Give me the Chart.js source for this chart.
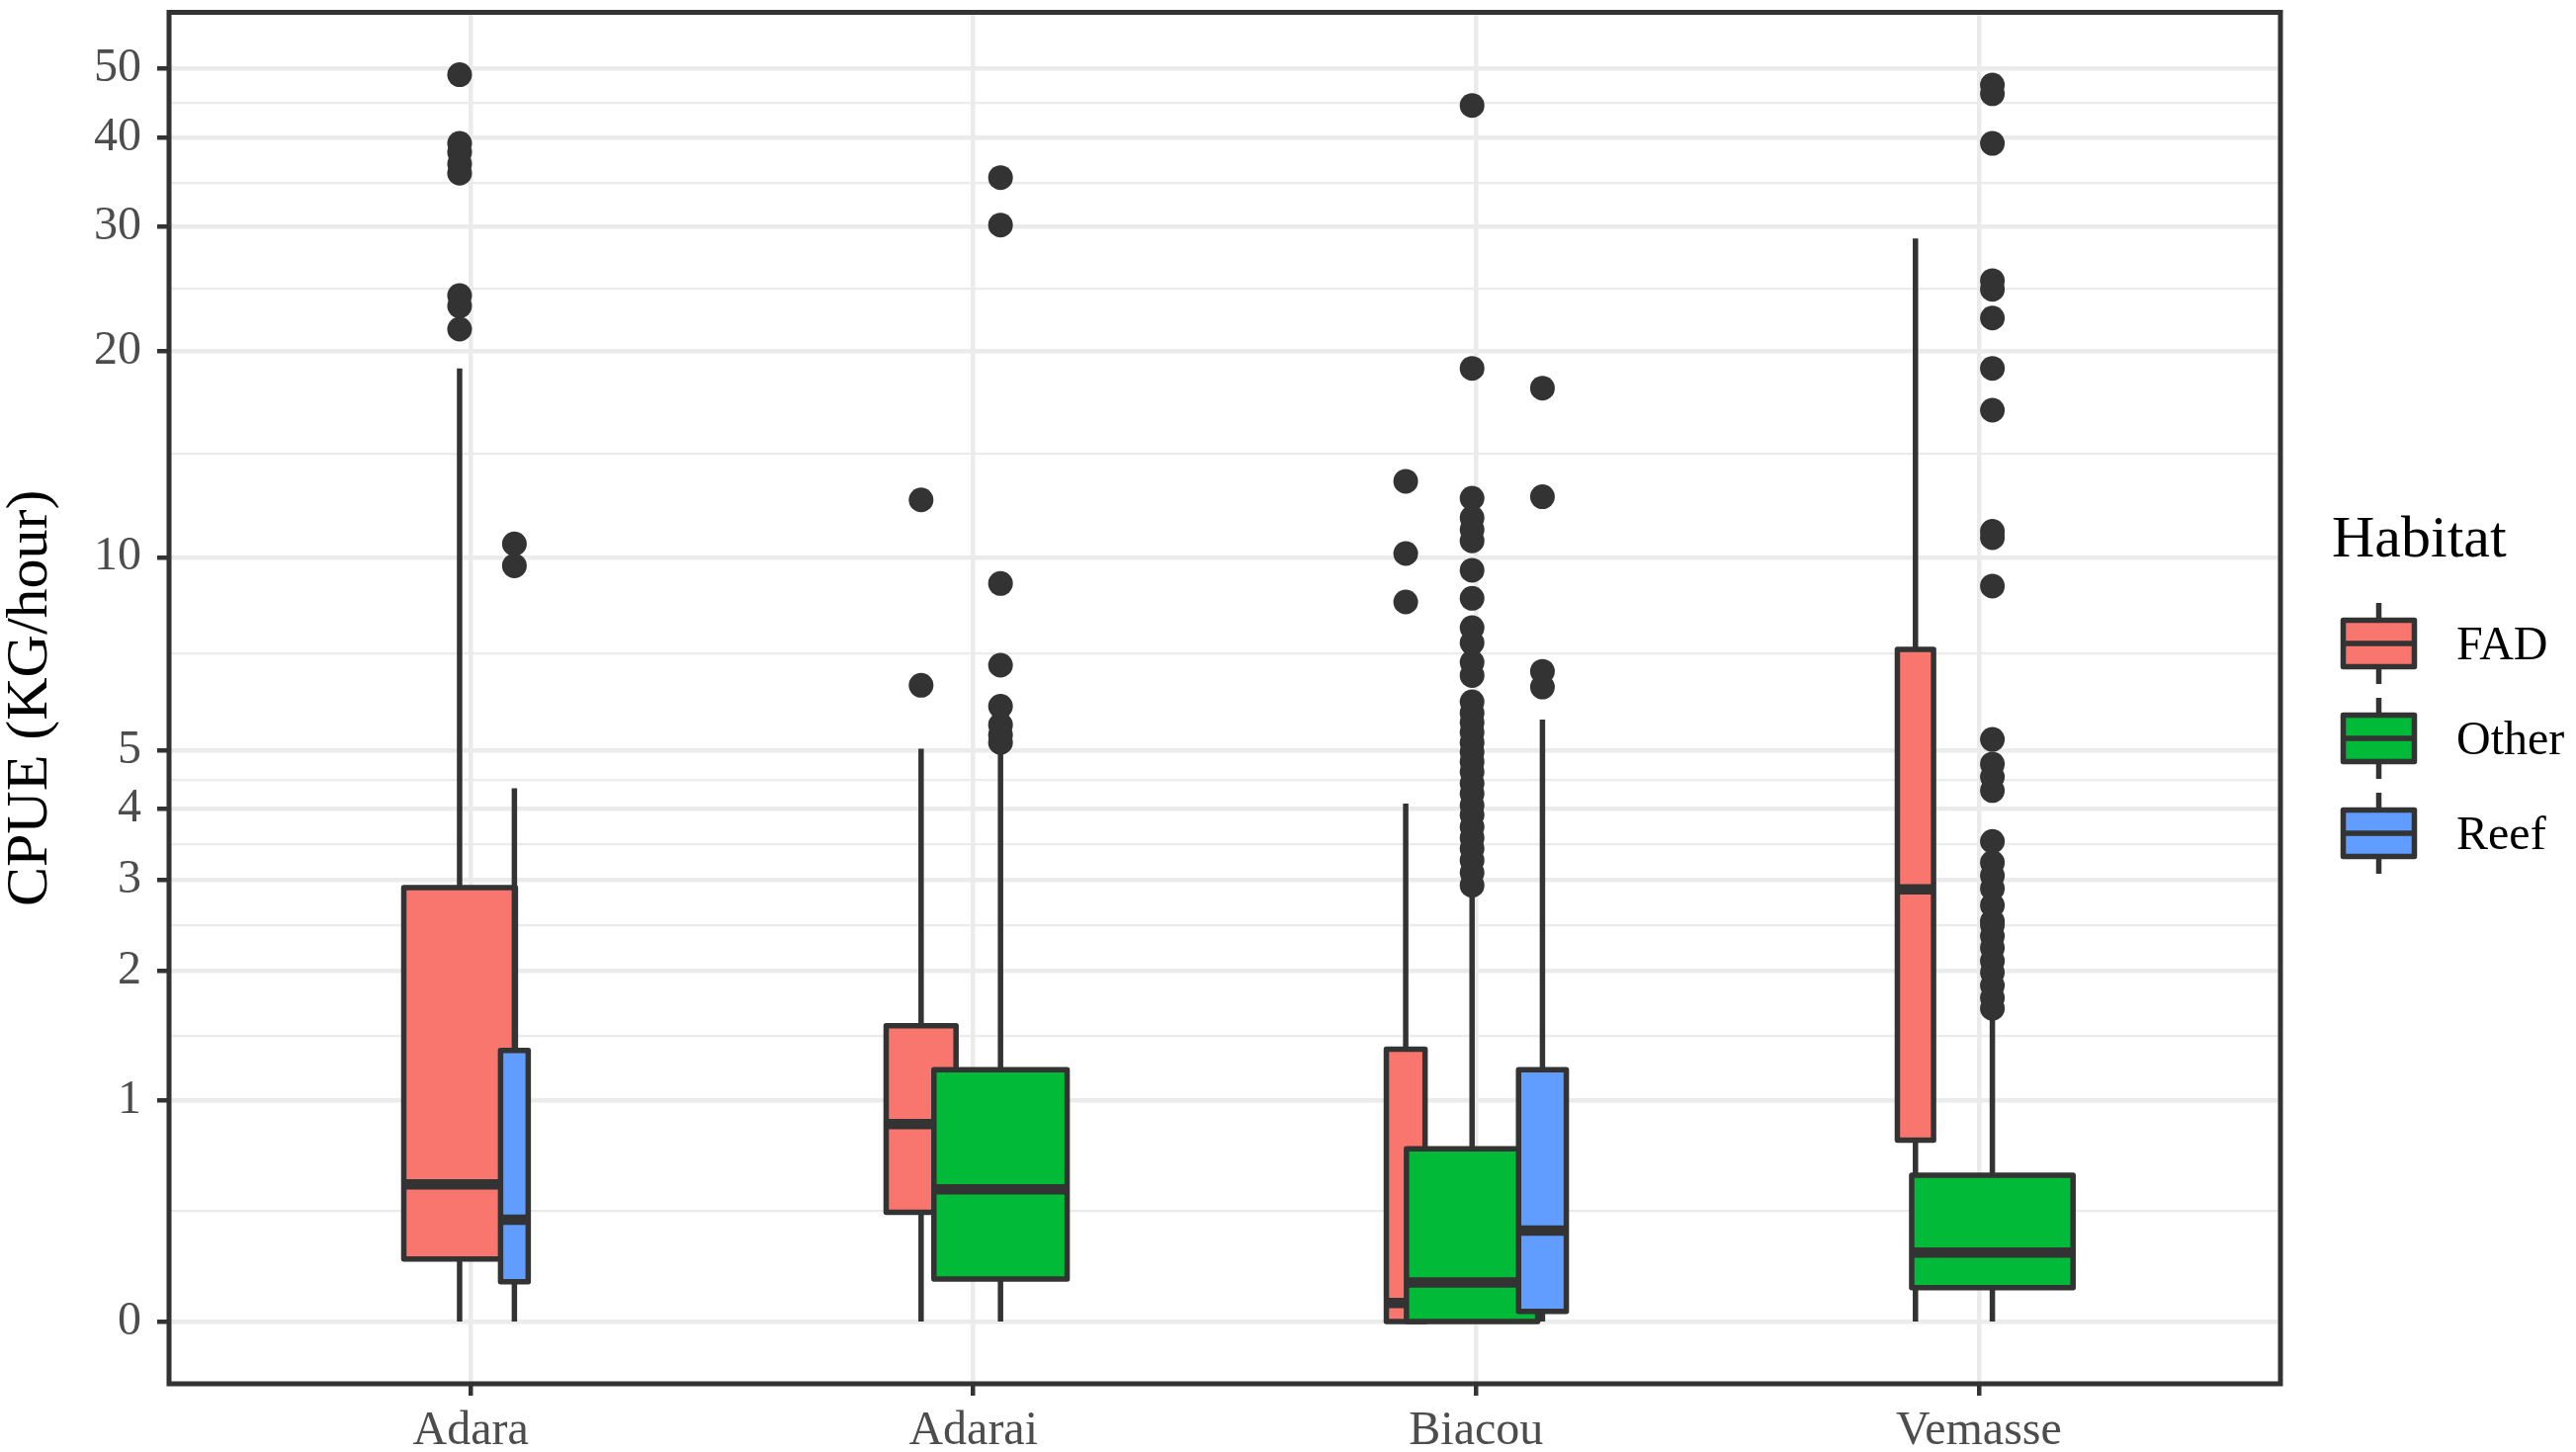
<!DOCTYPE html>
<html>
<head>
<meta charset="utf-8">
<script src="https://cdn.jsdelivr.net/npm/chart.js@4.4.1/dist/chart.umd.min.js"></script>
<style>
  body { margin: 0; background: #ffffff; }
  canvas { display: block; }
</style>
</head>
<body>
<canvas id="chart" width="2606" height="1469"></canvas>
<script>
const sites = ['Adara', 'Adarai', 'Biacou', 'Vemasse'];
const habitats = ['FAD', 'Other', 'Reef'];
const yBreaks = [0, 1, 2, 3, 4, 5, 10, 20, 30, 40, 50];

// [lower whisker, Q1, median, Q3, upper whisker] per site, null = habitat not fished there
const fadStats = [[0, 0.216, 0.538, 2.90, 18.9], [0, 0.409, 0.857, 1.53, 5.03], [0, 0, 0.06, 1.35, 4.08], [0, 0.767, 2.88, 7.24, 28.9]];
const otherStats = [null, [0, 0.1425, 0.514, 1.203, 5.0], [0, 0, 0.130, 0.719, 2.8], [0, 0.1115, 0.2415, 0.582, 1.6]];
const reefStats = [[0, 0.133, 0.376, 1.341, 4.33], null, [0, 0.032, 0.330, 1.203, 5.61], null];

const fadOutliers = [
    [49.0, 39.3, 38.2, 36.8, 35.7, 24.0, 23.2, 21.5],
    [12.17, 6.36],
    [12.96, 10.13, 8.56],
    []
];
const otherOutliers = [
    [],
    [35.2, 30.2, 9.13, 6.84, 5.89, 5.5, 5.3, 5.15],
    [44.4, 18.9, 12.24, 11.45, 11.0, 10.58, 9.56, 8.67, 7.82, 7.41, 6.91, 6.59,
     5.99, 5.75, 5.55, 5.35, 5.15, 4.97, 4.79, 4.61, 4.41, 4.24, 4.05, 3.90, 3.72, 3.56, 3.41, 3.25, 3.09, 2.93],
    [47.4, 46.1, 39.3, 25.2, 24.5, 22.3, 18.9, 16.45, 10.93, 10.7, 9.05,
     5.21, 4.75, 4.52, 4.29, 3.51, 3.22, 3.05, 2.89, 2.69, 2.51, 2.47, 2.35, 2.23, 2.10, 1.99, 1.87, 1.76, 1.67]
];
const reefOutliers = [
    [10.47, 9.71],
    [],
    [17.7, 12.3, 6.69, 6.32],
    []
];

// dodge layout (varwidth boxes), in x-axis units
const boxOffset = { FAD: [-0.022, -0.104, -0.140, -0.126], Other: [0, 0.054, -0.008, 0.027], Reef: [0.087, 0, 0.132, 0] };
const boxWidth = { FAD: [0.222, 0.139, 0.077, 0.072], Other: [0, 0.265, 0.261, 0.321], Reef: [0.055, 0, 0.095, 0] };

const colors = { FAD: '#F8766D', Other: '#00BA38', Reef: '#619CFF' };
const ink = '#333333';
const serif = "'Liberation Serif', 'Times New Roman', serif";

const statsBy = { FAD: fadStats, Other: otherStats, Reef: reefStats };
const outliersBy = { FAD: fadOutliers, Other: otherOutliers, Reef: reefOutliers };

const tr = v => Math.log1p(v);

// ggplot-like 5% expansion of the transformed data range
let allValues = [];
habitats.forEach(h => {
    statsBy[h].forEach(s => { if (s) allValues = allValues.concat(s) });
    outliersBy[h].forEach(o => { allValues = allValues.concat(o) });
});
const yLo = tr(Math.min(...allValues));
const yHi = tr(Math.max(...allValues));
const yMin = yLo - (yHi - yLo) * 0.05;
const yMax = yHi + (yHi - yLo) * 0.05;

const majorTicks = yBreaks.map(tr);
const minorTicks = [];
for (let i = 0; i < majorTicks.length - 1; i++) {
    minorTicks.push((majorTicks[i] + majorTicks[i + 1]) / 2);
}
const isMajor = v => majorTicks.some(m => Math.abs(m - v) < 1e-9);

const datasets = habitats.map(h => {
    let pts = [];
    sites.forEach((s, i) => {
        outliersBy[h][i].forEach(v => pts.push({ x: i + 1 + boxOffset[h][i], y: tr(v) }));
    });
    return {
        label: h,
        data: pts,
        pointRadius: 12.5,
        pointHoverRadius: 12.5,
        pointBackgroundColor: ink,
        pointBorderWidth: 0,
        showLine: false
    };
});

const boxPlugin = {
    id: 'boxes',
    beforeDatasetsDraw(chart) {
        const ctx = chart.ctx;
        const xs = chart.scales.x, ys = chart.scales.y;
        ctx.save();
        sites.forEach((s, i) => {
            habitats.forEach(h => {
                const st = statsBy[h][i];
                if (!st) return;
                const [lo, q1, med, q3, hi] = st.map(v => ys.getPixelForValue(tr(v)));
                const c = i + 1 + boxOffset[h][i];
                const xc = xs.getPixelForValue(c);
                const xl = xs.getPixelForValue(c - boxWidth[h][i] / 2);
                const xr = xs.getPixelForValue(c + boxWidth[h][i] / 2);
                ctx.strokeStyle = ink;
                ctx.lineWidth = 5.5;
                ctx.lineCap = 'butt';
                ctx.beginPath();
                ctx.moveTo(xc, hi); ctx.lineTo(xc, q3);
                ctx.moveTo(xc, q1); ctx.lineTo(xc, lo);
                ctx.stroke();
                ctx.fillStyle = colors[h];
                ctx.fillRect(xl, q3, xr - xl, q1 - q3);
                ctx.lineJoin = 'round';
                ctx.strokeRect(xl, q3, xr - xl, q1 - q3);
                ctx.lineWidth = 10.5;
                ctx.beginPath();
                ctx.moveTo(xl, med); ctx.lineTo(xr, med);
                ctx.stroke();
            });
        });
        ctx.restore();
    },
    afterDraw(chart) {
        const ctx = chart.ctx;
        const a = chart.chartArea;
        ctx.save();
        // panel border
        ctx.strokeStyle = ink;
        ctx.lineWidth = 5;
        ctx.strokeRect(a.left, a.top, a.right - a.left, a.bottom - a.top);

        // legend
        ctx.fillStyle = '#000000';
        ctx.font = '60px ' + serif;
        ctx.textBaseline = 'alphabetic';
        ctx.textAlign = 'left';
        ctx.fillText('Habitat', 2359, 563);
        habitats.forEach((h, k) => {
            const cy = 651 + k * 96;
            const cx = 2406.5;
            ctx.strokeStyle = ink;
            ctx.lineWidth = 5.5;
            ctx.beginPath();
            ctx.moveTo(cx, cy - 41); ctx.lineTo(cx, cy - 23.5);
            ctx.moveTo(cx, cy + 23.5); ctx.lineTo(cx, cy + 41);
            ctx.stroke();
            ctx.fillStyle = colors[h];
            ctx.fillRect(cx - 36, cy - 23.5, 72, 47);
            ctx.lineJoin = 'round';
            ctx.strokeRect(cx - 36, cy - 23.5, 72, 47);
            ctx.beginPath();
            ctx.moveTo(cx - 36, cy); ctx.lineTo(cx + 36, cy);
            ctx.stroke();
            ctx.fillStyle = '#000000';
            ctx.font = '48px ' + serif;
            ctx.fillText(h, 2485, cy + 16);
        });
        ctx.restore();
    }
};

new Chart(document.getElementById('chart'), {
    type: 'scatter',
    data: { datasets: datasets },
    plugins: [boxPlugin],
    options: {
        responsive: false,
        devicePixelRatio: 1,
        animation: false,
        events: [],
        layout: { padding: { left: 0, top: 7, right: 299, bottom: 0 } },
        plugins: { legend: { display: false }, tooltip: { enabled: false } },
        scales: {
            x: {
                type: 'linear',
                min: 0.4,
                max: 4.6,
                afterBuildTicks: scale => { scale.ticks = sites.map((s, i) => ({ value: i + 1 })) },
                afterFit: scale => {
                    scale.height = 69;
                    scale.paddingLeft = 0;
                    scale.paddingRight = 0;
                },
                border: { display: false },
                grid: { color: '#EBEBEB', lineWidth: 4.5, tickColor: ink, tickWidth: 4.5, tickLength: 12 },
                ticks: {
                    autoSkip: false,
                    maxRotation: 0,
                    padding: 8,
                    color: '#4D4D4D',
                    font: { family: serif, size: 48 },
                    callback: v => sites[Math.round(v) - 1]
                }
            },
            y: {
                type: 'linear',
                min: yMin,
                max: yMax,
                afterBuildTicks: scale => {
                    scale.ticks = majorTicks.concat(minorTicks).sort((p, q) => p - q).map(v => ({ value: v }));
                },
                afterFit: scale => {
                    scale.width = 171;
                    scale.paddingTop = 0;
                    scale.paddingBottom = 0;
                },
                border: { display: false },
                grid: {
                    color: '#EBEBEB',
                    lineWidth: c => (c.tick && isMajor(c.tick.value)) ? 4.5 : 2.2,
                    tickColor: c => (c.tick && isMajor(c.tick.value)) ? ink : 'rgba(0,0,0,0)',
                    tickWidth: 4.5,
                    tickLength: 12
                },
                ticks: {
                    autoSkip: false,
                    padding: 16,
                    color: '#4D4D4D',
                    font: { family: serif, size: 48 },
                    callback: v => {
                        const k = majorTicks.findIndex(m => Math.abs(m - v) < 1e-9);
                        return k >= 0 ? String(yBreaks[k]) : '';
                    }
                },
                title: {
                    display: true,
                    text: 'CPUE (KG/hour)',
                    color: '#000000',
                    font: { family: serif, size: 60, lineHeight: 1 },
                    padding: { top: 1, bottom: 0 }
                }
            }
        }
    }
});
</script>
</body>
</html>
